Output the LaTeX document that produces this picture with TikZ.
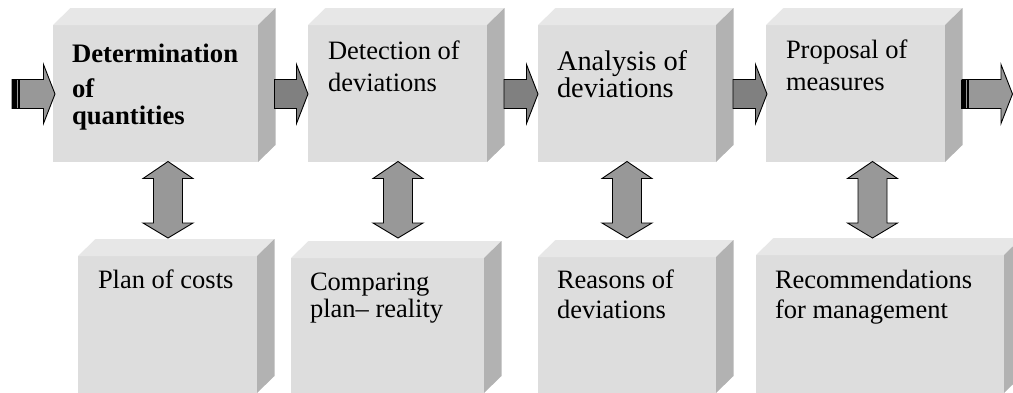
\documentclass[tikz,border=0pt]{standalone}
\usepackage{fontspec}
\setmainfont{Liberation Serif}
\usetikzlibrary{calc}
\definecolor{frontc}{RGB}{221,221,221}
\definecolor{topc}{RGB}{231,231,231}
\definecolor{sidec}{RGB}{178,178,178}
\definecolor{arrowc}{RGB}{152,152,152}
\definecolor{arrowd}{RGB}{128,128,128}
\newcommand\cubeFaces[1]{%
  \fill[topface] (#1.north west) -- ++(17.5,-17) -- ($(#1.north east)+(17.5,-17)$) -- (#1.north east) -- cycle;
  \fill[sideface] (#1.north east) -- ++(17.5,-17) -- ($(#1.south east)+(17.5,-17)$) -- (#1.south east) -- cycle;}
\newcommand\hBlock[3][blkd]{%
  \draw[#1] ($(#2)+(0,-14.5)$) -- ($(#3)+(-11.5,-14.5)$) -- ($(#3)+(-11.5,-29.5)$) -- (#3)
    -- ($(#3)+(-11.5,29.5)$) -- ($(#3)+(-11.5,14.5)$) -- ($(#2)+(0,14.5)$) -- cycle;}
\newcommand\vBlock[2]{%
  \draw[blk] (#1) -- ($(#1)+(25,17)$) -- ($(#1)+(14.5,17)$) -- ($(#2)+(14.5,-15)$) -- ($(#2)+(25,-15)$)
    -- (#2) -- ($(#2)+(-25,-15)$) -- ($(#2)+(-14.5,-15)$) -- ($(#1)+(-14.5,17)$) -- ($(#1)+(-25,17)$) -- cycle;}
\begin{document}
\begin{tikzpicture}[x=1pt,y=-1pt,
  front/.style={fill=frontc, draw=none, inner sep=0pt, outer sep=0pt},
  topface/.style={fill=topc},
  sideface/.style={fill=sidec},
  lbl/.style={anchor=base west, inner sep=0pt, outer sep=0pt, font=\fontsize{26.5}{32}\selectfont},
  lblbig/.style={lbl, font=\fontsize{28.4}{32}\selectfont},
  lblbold/.style={lbl, font=\fontsize{26.7}{32}\selectfont\bfseries},
  blk/.style={draw=black, line width=0.9pt, fill=arrowc, line join=miter},
  blkd/.style={blk, fill=arrowd}]
\useasboundingbox (0,0) rectangle (1013,392);
\clip (0,0) rectangle (1013,392);
% top row boxes
\node[front, minimum width=205pt, minimum height=137pt] (b1) at (155.5,93.5) {};
\node[front, minimum width=179pt, minimum height=137pt] (b2) at (397.5,93.5) {};
\node[front, minimum width=178pt, minimum height=137pt] (b3) at (627,93.5) {};
\node[front, minimum width=179pt, minimum height=137pt] (b4) at (855.5,93.5) {};
% bottom row boxes
\node[front, minimum width=179pt, minimum height=137pt] (c1) at (167.5,324.5) {};
\node[front, minimum width=193pt, minimum height=135pt] (c2) at (387.5,325.5) {};
\node[front, minimum width=178pt, minimum height=136pt] (c3) at (627,325) {};
\node[front, minimum width=248pt, minimum height=138pt] (c4) at (880,324) {};
\cubeFaces{b1}\cubeFaces{b2}\cubeFaces{b3}\cubeFaces{b4}
\cubeFaces{c1}\cubeFaces{c2}\cubeFaces{c3}\cubeFaces{c4}
% coordinates for connectors
\coordinate (in) at (12,94);
\coordinate (out) at (1012.5,94);
\coordinate (b1in) at ($(b1.west)+(2,0.5)$);
\coordinate (b1r) at ($(b1.east)+(16.5,0.5)$);
\coordinate (b2r) at ($(b2.east)+(17,0.5)$);
\coordinate (b3r) at ($(b3.east)+(17,0.5)$);
\coordinate (b4r) at ($(b4.east)+(17,0.5)$);
\coordinate (b2l) at ($(b2.west)+(0,0.5)$);
\coordinate (b3l) at ($(b3.west)+(0,0.5)$);
\coordinate (b4l) at ($(b4.west)+(1,0.5)$);
\coordinate (v1t) at (168,161.5); \coordinate (v1b) at (168,238);
\coordinate (v2t) at (398,161.5); \coordinate (v2b) at (398,238);
\coordinate (v3t) at (627,161.5); \coordinate (v3b) at (627,238);
\coordinate (v4t) at (872.5,161.5); \coordinate (v4b) at (872.5,238);
% horizontal block arrows
\hBlock[blk]{in}{b1in}
\fill[black] ($(in)+(0,-14.5)$) rectangle ($(in)+(5,14.5)$);
\fill[black] ($(in)+(6.3,-14.5)$) rectangle ($(in)+(8,14.5)$);
\hBlock{b1r}{b2l}
\hBlock{b2r}{b3l}
\hBlock{b3r}{b4l}
\hBlock[blk]{b4r}{out}
\fill[black] ($(b4r)+(-1,-14.5)$) rectangle ($(b4r)+(4,14.5)$);
\fill[black] ($(b4r)+(5.3,-14.5)$) rectangle ($(b4r)+(7,14.5)$);
% vertical double arrows
\vBlock{v1t}{v1b}
\vBlock{v2t}{v2b}
\vBlock{v3t}{v3b}
\vBlock{v4t}{v4b}
% texts
\node[lblbold] (t1a) at (72,62) {Determination};
\node[lblbold] (t1b) at (72,97) {of};
\node[lblbold] (t1c) at (72,124) {quantities};
\node[lbl] (t2a) at (328,59) {Detection of};
\node[lbl] (t2b) at (328,91) {deviations};
\node[lblbig] (t3a) at (557,70) {Analysis of};
\node[lblbig] (t3b) at (557,97) {deviations};
\node[lbl] (t4a) at (786,58) {Proposal of};
\node[lbl] (t4b) at (786,90) {measures};
\node[lbl] (s1a) at (98,288) {Plan of costs};
\node[lbl] (s2a) at (310,290) {Comparing};
\node[lbl] (s2b) at (310,317) {plan– reality};
\node[lbl] (s3a) at (557,288) {Reasons of};
\node[lbl] (s3b) at (557,318) {deviations};
\node[lbl] (s4a) at (775,288) {Recommendations};
\node[lbl] (s4b) at (775,318) {for management};
\end{tikzpicture}
\end{document}
